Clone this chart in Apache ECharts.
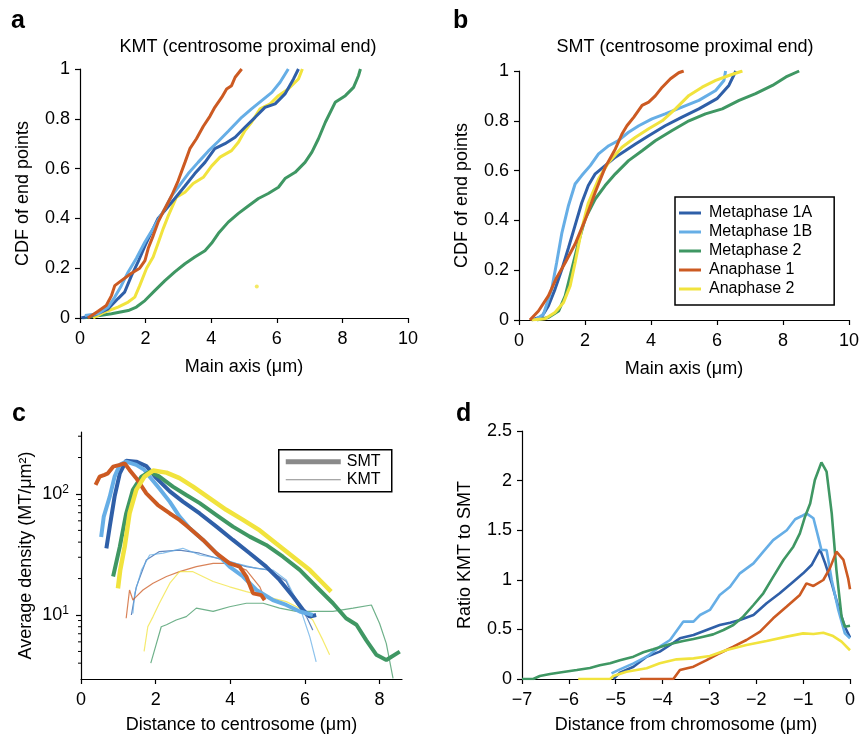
<!DOCTYPE html>
<html>
<head>
<meta charset="utf-8">
<title>KMT / SMT end points</title>
<script src="https://cdn.jsdelivr.net/npm/echarts@6/dist/echarts.min.js"></script>
<style>
html, body { margin: 0; padding: 0; background: #fff; }
#chart { width: 859px; height: 735px; }
</style>
</head>
<body>
<div id="chart"></div>
<script>
const stages = ['Metaphase 1A', 'Metaphase 1B', 'Metaphase 2', 'Anaphase 1', 'Anaphase 2']
const colors = ['#2F5FA8', '#66AEE6', '#3F9763', '#CC5A22', '#F1E33D']

// a: KMT, CDF of centrosome proximal end
const kmtCdf1A = [[0.04,0],[0.45,0.013],[0.86,0.037],[1.16,0.078],[1.36,0.104],[1.57,0.17],[1.77,0.225],[1.98,0.29],[2.18,0.345],[2.38,0.4],[2.64,0.44],[2.89,0.48],[3.2,0.53],[3.5,0.58],[3.81,0.625],[4.11,0.68],[4.42,0.7],[4.73,0.726],[5.03,0.766],[5.34,0.806],[5.64,0.846],[5.95,0.86],[6.25,0.9],[6.51,0.96],[6.66,1]]
const kmtCdf1B = [[0.15,0.01],[0.55,0.017],[0.86,0.044],[1.06,0.084],[1.26,0.13],[1.47,0.185],[1.72,0.24],[1.98,0.305],[2.28,0.37],[2.59,0.44],[2.79,0.49],[2.99,0.525],[3.3,0.58],[3.6,0.625],[3.91,0.67],[4.22,0.71],[4.52,0.75],[4.93,0.806],[5.23,0.84],[5.54,0.873],[5.85,0.906],[6.1,0.947],[6.35,1]]
const kmtCdf2 = [[0.09,0],[0.96,0.017],[1.47,0.03],[1.72,0.044],[1.98,0.07],[2.28,0.11],[2.59,0.15],[2.89,0.185],[3.2,0.218],[3.5,0.245],[3.81,0.27],[4.01,0.3],[4.22,0.34],[4.52,0.385],[4.83,0.42],[5.13,0.45],[5.44,0.48],[5.74,0.5],[6.05,0.525],[6.25,0.56],[6.56,0.585],[6.86,0.625],[7.07,0.666],[7.27,0.72],[7.48,0.786],[7.78,0.866],[8.09,0.893],[8.34,0.926],[8.49,0.973],[8.55,1]]
const kmtCdfAna1 = [[0.24,0],[0.55,0.027],[0.8,0.05],[0.96,0.09],[1.06,0.13],[1.26,0.15],[1.57,0.18],[1.82,0.2],[1.98,0.23],[2.08,0.28],[2.23,0.33],[2.38,0.385],[2.59,0.44],[2.79,0.49],[2.99,0.55],[3.2,0.625],[3.35,0.68],[3.55,0.72],[3.76,0.77],[3.96,0.81],[4.11,0.846],[4.32,0.886],[4.47,0.92],[4.62,0.933],[4.73,0.967],[4.93,1]]
const kmtCdfAna2 = [[0.4,0],[0.75,0.024],[1.16,0.044],[1.47,0.064],[1.67,0.084],[1.82,0.13],[2.03,0.2],[2.23,0.245],[2.38,0.3],[2.54,0.36],[2.69,0.41],[2.94,0.485],[3.2,0.505],[3.45,0.54],[3.76,0.565],[4.01,0.61],[4.27,0.646],[4.62,0.672],[4.83,0.706],[5.03,0.753],[5.23,0.786],[5.49,0.84],[5.8,0.86],[6.05,0.893],[6.35,0.92],[6.66,0.96],[6.78,1]]
const kmtCdfAna2Stray = [[5.39,0.127]]

// b: SMT, CDF of centrosome proximal end
const smtCdf1A = [[0.38,0],[0.69,0.013],[0.89,0.056],[1.09,0.123],[1.3,0.204],[1.5,0.29],[1.7,0.38],[1.9,0.47],[2.1,0.54],[2.31,0.587],[2.61,0.62],[2.92,0.654],[3.22,0.68],[3.53,0.707],[3.93,0.74],[4.43,0.78],[4.94,0.815],[5.45,0.848],[6.0,0.889],[6.36,0.942],[6.57,1]]
const smtCdf1B = [[0.49,0],[0.74,0.023],[0.99,0.123],[1.14,0.23],[1.3,0.35],[1.5,0.46],[1.7,0.546],[1.9,0.58],[2.16,0.62],[2.41,0.667],[2.72,0.7],[3.0,0.72],[3.32,0.754],[3.63,0.78],[4.03,0.808],[4.43,0.828],[4.94,0.855],[5.45,0.882],[5.96,0.922],[6.21,0.962],[6.26,1]]
const smtCdf2 = [[0.54,0],[0.89,0.01],[1.2,0.036],[1.4,0.097],[1.6,0.204],[1.8,0.31],[2.0,0.405],[2.31,0.486],[2.61,0.54],[2.92,0.587],[3.32,0.64],[3.73,0.68],[4.13,0.72],[4.64,0.761],[5.15,0.8],[5.65,0.828],[6.16,0.848],[6.67,0.882],[7.17,0.909],[7.68,0.942],[8.09,0.976],[8.49,1]]
const smtCdfAna1 = [[0.33,0],[0.59,0.036],[0.89,0.097],[1.14,0.17],[1.4,0.23],[1.7,0.305],[2.0,0.4],[2.31,0.513],[2.61,0.613],[2.92,0.687],[3.12,0.747],[3.27,0.78],[3.48,0.815],[3.73,0.862],[3.93,0.875],[4.13,0.9],[4.34,0.935],[4.59,0.969],[4.84,0.993],[4.99,1]]
const smtCdfAna2 = [[0.38,0],[0.79,0.005],[1.09,0.03],[1.35,0.07],[1.55,0.137],[1.7,0.23],[1.9,0.365],[2.1,0.47],[2.41,0.566],[2.72,0.634],[3.12,0.694],[3.53,0.734],[3.93,0.768],[4.34,0.8],[4.74,0.848],[5.15,0.902],[5.55,0.935],[5.96,0.962],[6.36,0.982],[6.77,1]]

// c: average density (MT/um^2) vs distance to centrosome
const smtDens1A = [[0.68,35.5],[0.77,53.7],[0.9,95],[1.04,148],[1.21,188],[1.48,185],[1.75,170],[2.02,135],[2.38,105],[2.73,86.5],[3.18,69],[3.63,53.7],[4.07,41.7],[4.52,32.4],[4.96,25.1],[5.32,19.5],[5.68,14.2],[5.95,11],[6.13,9.7],[6.3,10]]
const smtDens1B = [[0.54,44],[0.61,65],[0.77,95],[0.9,139],[1.04,174],[1.21,185],[1.48,174],[1.7,158],[1.84,139],[2.1,111],[2.38,86],[2.64,65],[2.91,52],[3.27,41.7],[3.63,32.3],[3.98,25.1],[4.34,20.8],[4.7,16.1],[5.14,13.3],[5.5,12.1],[5.86,10.7],[6.21,10]]
const smtDens2 = [[0.86,20.8],[1.04,36.7],[1.21,69],[1.39,108],[1.62,139],[1.84,153],[2.1,139],[2.46,115],[2.82,98],[3.18,84],[3.63,67],[4.07,53.7],[4.52,44.4],[4.96,37.9],[5.41,30.3],[5.86,23.6],[6.3,17.2],[6.75,12.5],[7.1,9.4],[7.38,8.3],[7.64,6.2],[7.91,4.7],[8.18,4.25],[8.54,4.98]]
const smtDensAna1 = [[0.39,119],[0.5,139],[0.63,144],[0.72,148],[0.86,168],[1.04,174],[1.17,179],[1.3,158],[1.48,135],[1.75,101],[2.06,81],[2.38,69],[2.64,61],[2.91,52],[3.27,41.7],[3.63,32.3],[3.98,26.7],[4.25,25.1],[4.43,20.8],[4.61,15.1],[4.83,14.6],[4.92,13.3]]
const smtDensAna2 = [[0.99,16.6],[1.05,23.5],[1.17,36.7],[1.3,69],[1.48,108],[1.7,139],[1.93,156],[2.29,150],[2.64,135],[3.0,115],[3.45,92],[3.89,74],[4.34,61],[4.79,50],[5.23,39],[5.68,30.3],[6.13,23.5],[6.48,18.3],[6.7,15.6]]
const kmtDens1A = [[1.35,10],[1.48,17],[1.75,28.5],[2.1,33.4],[2.64,34.4],[3.18,32.4],[3.8,28.5],[4.43,25.1],[5.05,23.5],[5.5,18.9],[5.77,12.5],[6.04,9.7],[6.21,7.5]]
const kmtDens1B = [[1.39,10.3],[1.44,15.1],[1.62,23.5],[1.84,31.3],[2.2,32.4],[2.73,35.6],[3.18,31.3],[3.71,29.4],[4.16,26.7],[4.7,24.3],[5.14,23.5],[5.5,19.5],[5.86,11.7],[6.13,6.6],[6.3,4.1]]
const kmtDens2 = [[1.87,4],[2.02,5.8],[2.15,8],[2.29,8.3],[2.55,9.1],[2.82,9.7],[3.09,11.4],[3.54,10.7],[3.98,11.7],[4.43,12.5],[4.88,12.5],[5.32,11.4],[5.77,10.7],[6.21,10.7],[6.75,10.7],[7.29,11.4],[7.78,12.1],[8.0,8.5],[8.18,5.8],[8.36,3.0]]
const kmtDensAna1 = [[1.21,9.4],[1.3,16.1],[1.39,13.3],[1.48,14.2],[1.66,16.1],[1.93,18.3],[2.29,20.8],[2.64,22.8],[3.09,25.1],[3.54,26.7],[3.98,26.7],[4.43,23.5],[4.79,17.1],[4.92,13.7]]
const kmtDensAna2 = [[1.69,5],[1.79,8],[1.93,9.7],[2.1,12.5],[2.38,18.3],[2.64,22.8],[3.0,22.8],[3.54,18.9],[3.98,17.1],[4.43,15.6],[4.96,14.2],[5.5,12.9],[5.95,11],[6.21,9.1],[6.48,6.2],[6.66,4.7]]
const densMinorTicks = [4, 5, 6, 7, 8, 9, 20, 30, 40, 50, 60, 70, 80, 90, 200, 300]

// d: ratio KMT to SMT vs distance from chromosome
const ratio1A = [[-5.05,0],[-4.91,0.064],[-4.62,0.124],[-4.34,0.225],[-4.06,0.276],[-3.84,0.343],[-3.63,0.41],[-3.34,0.443],[-3.06,0.494],[-2.78,0.544],[-2.56,0.568],[-2.35,0.595],[-2.06,0.645],[-1.78,0.763],[-1.5,0.864],[-1.21,0.981],[-1.0,1.065],[-0.82,1.149],[-0.64,1.307],[-0.53,1.166],[-0.39,0.964],[-0.25,0.729],[-0.11,0.527],[0,0.42]]
const ratio1B = [[-5.09,0.057],[-4.91,0.097],[-4.62,0.158],[-4.34,0.225],[-4.06,0.326],[-3.84,0.393],[-3.56,0.578],[-3.34,0.578],[-3.2,0.645],[-2.99,0.696],[-2.78,0.847],[-2.56,0.93],[-2.35,1.065],[-2.06,1.166],[-1.85,1.284],[-1.64,1.4],[-1.35,1.5],[-1.17,1.61],[-1.03,1.643],[-0.93,1.67],[-0.78,1.62],[-0.68,1.435],[-0.61,1.3],[-0.5,1.3],[-0.39,0.998],[-0.25,0.696],[-0.11,0.46],[0,0.41]]
const ratio2 = [[-7,0],[-6.76,0],[-6.62,0.03],[-6.4,0.05],[-6.12,0.07],[-5.83,0.09],[-5.55,0.11],[-5.34,0.138],[-5.12,0.158],[-4.91,0.19],[-4.62,0.225],[-4.41,0.27],[-4.2,0.3],[-3.98,0.333],[-3.77,0.36],[-3.56,0.383],[-3.34,0.403],[-3.13,0.427],[-2.92,0.45],[-2.7,0.494],[-2.49,0.544],[-2.28,0.628],[-2.06,0.746],[-1.85,0.864],[-1.64,1.03],[-1.42,1.2],[-1.21,1.334],[-1.07,1.468],[-0.96,1.636],[-0.85,1.77],[-0.75,2.006],[-0.61,2.184],[-0.5,2.09],[-0.39,1.67],[-0.29,1.1],[-0.18,0.628],[-0.11,0.527],[0,0.537]]
const ratioAna1 = [[-4.48,0],[-3.77,0],[-3.63,0.09],[-3.34,0.124],[-3.06,0.19],[-2.78,0.26],[-2.49,0.326],[-2.21,0.393],[-1.92,0.477],[-1.64,0.612],[-1.35,0.73],[-1.07,0.847],[-0.93,0.964],[-0.78,0.938],[-0.57,0.998],[-0.43,1.115],[-0.29,1.284],[-0.14,1.2],[-0.04,1.015],[0,0.904]]
const ratioAna2 = [[-5.8,0],[-5.12,0],[-5.05,0.03],[-4.77,0.074],[-4.34,0.108],[-4.06,0.158],[-3.7,0.198],[-3.34,0.208],[-2.99,0.232],[-2.63,0.292],[-2.21,0.343],[-1.78,0.383],[-1.35,0.427],[-1.0,0.46],[-0.78,0.453],[-0.57,0.467],[-0.36,0.433],[-0.18,0.376],[0,0.29]]

const FONT = '"Liberation Sans", Arial, sans-serif'
const chart = echarts.init(document.getElementById('chart'))

const axisBase = {
  axisLine: { show: true, onZero: false, lineStyle: { color: '#000', width: 1.2 } },
  axisTick: { show: true, length: 5, lineStyle: { color: '#000', width: 1.2 } },
  splitLine: { show: false },
  nameLocation: 'middle',
  nameTextStyle: { color: '#000', fontSize: 18, fontFamily: FONT },
}
const labelX = { color: '#000', fontSize: 18, fontFamily: FONT, margin: 12 }
const labelY = { color: '#000', fontSize: 18, fontFamily: FONT, margin: 10 }
function xAx(gridIndex, extra) {
  return Object.assign({ type: 'value', gridIndex, nameGap: 40, axisLabel: labelX }, axisBase, extra)
}
function yAx(gridIndex, extra) {
  return Object.assign({ type: 'value', gridIndex, nameGap: 46, axisLabel: labelY }, axisBase, extra)
}
const minus = v => (v < 0 ? '\u2212' + (-v) : String(v))

function line(idx, data, gi, width, opacity, z) {
  return {
    type: 'line',
    name: stages[idx],
    xAxisIndex: gi,
    yAxisIndex: gi,
    data,
    symbol: 'none',
    smooth: false,
    z: z || 2,
    lineStyle: { color: colors[idx], width, opacity: opacity || 1 },
    itemStyle: { color: colors[idx] },
    emphasis: { disabled: true },
  }
}

const panelA = [kmtCdf2, kmtCdfAna2, kmtCdf1A, kmtCdf1B, kmtCdfAna1]
const panelB = [smtCdf2, smtCdf1A, smtCdf1B, smtCdfAna2, smtCdfAna1]
const idxA = [2, 4, 0, 1, 3]
const idxB = [2, 0, 1, 4, 3]
const smtDens = [smtDens1A, smtDens1B, smtDens2, smtDensAna1, smtDensAna2]
const kmtDens = [kmtDens1A, kmtDens1B, kmtDens2, kmtDensAna1, kmtDensAna2]
const ratios = [ratio1A, ratio1B, ratio2, ratioAna1, ratioAna2]

const series = []
panelA.forEach((d, i) => series.push(line(idxA[i], d, 0, 3)))
series.push({
  type: 'scatter', xAxisIndex: 0, yAxisIndex: 0, data: kmtCdfAna2Stray,
  symbolSize: 4, itemStyle: { color: colors[4] }, silent: true,
})
panelB.forEach((d, i) => series.push(line(idxB[i], d, 1, 3)))
kmtDens.forEach((d, i) => series.push(line(i, d, 2, 1.2, 0.75, 1)))
smtDens.forEach((d, i) => series.push(line(i, d, 2, i === 4 ? 4.5 : 4, 1, 3)))
series.push({
  type: 'custom',
  xAxisIndex: 2,
  yAxisIndex: 2,
  data: densMinorTicks.map(v => [0, v]),
  silent: true,
  clip: false,
  renderItem(params, api) {
    const p = api.coord([0, api.value(1)])
    return {
      type: 'line',
      shape: { x1: p[0] - 3, y1: p[1], x2: p[0], y2: p[1] },
      style: { stroke: '#000', lineWidth: 1 },
    }
  },
})
ratios.forEach((d, i) => series.push(line(i, d, 3, 2.6)))

const option = {
  animation: false,
  backgroundColor: '#fff',
  textStyle: { fontFamily: FONT },
  title: [
    { text: 'KMT (centrosome proximal end)', left: 243, top: 33, textAlign: 'center',
      textStyle: { fontSize: 18, fontWeight: 'normal', color: '#000', fontFamily: FONT } },
    { text: 'SMT (centrosome proximal end)', left: 680, top: 33, textAlign: 'center',
      textStyle: { fontSize: 18, fontWeight: 'normal', color: '#000', fontFamily: FONT } },
  ],
  grid: [
    { left: 80, top: 69, width: 328, height: 249, outerBoundsMode: 'none' },
    { left: 519, top: 71, width: 330, height: 249, outerBoundsMode: 'none' },
    { left: 81, top: 432, width: 321, height: 247, outerBoundsMode: 'none' },
    { left: 522, top: 431, width: 328, height: 248, outerBoundsMode: 'none' },
  ],
  xAxis: [
    xAx(0, { min: 0, max: 10, interval: 2, name: 'Main axis (\u03bcm)' }),
    xAx(1, { min: 0, max: 10, interval: 2, name: 'Main axis (\u03bcm)' }),
    xAx(2, { min: 0, max: 8.6, interval: 2, name: 'Distance to centrosome (\u03bcm)', nameGap: 37,
      axisLabel: Object.assign({}, labelX, { showMaxLabel: false }) }),
    xAx(3, { min: -7, max: 0, interval: 1, name: 'Distance from chromosome (\u03bcm)', nameGap: 37,
      axisLabel: Object.assign({}, labelX, { formatter: minus }) }),
  ],
  yAxis: [
    yAx(0, { min: 0, max: 1, interval: 0.2, name: 'CDF of end points', nameGap: 48 }),
    yAx(1, { min: 0, max: 1, interval: 0.2, name: 'CDF of end points', nameGap: 48 }),
    yAx(2, {
      type: 'log', logBase: 10, min: 2.96, max: 325, name: 'Average density (MT/\u03bcm\u00b2)', nameGap: 46,
      axisLabel: Object.assign({}, labelY, {
        margin: 12,
        showMinLabel: false,
        showMaxLabel: false,
        formatter(v) {
          const e = Math.round(Math.log10(v))
          if (Math.abs(Math.log10(v) - e) > 1e-6) return ''
          return '{b|10}{s|' + e + '}'
        },
        rich: {
          b: { fontSize: 18, fontFamily: FONT, color: '#000' },
          s: { fontSize: 12, fontFamily: FONT, color: '#000', verticalAlign: 'bottom', padding: [0, 0, 8, 0] },
        },
      }),
    }),
    yAx(3, { min: 0, max: 2.5, interval: 0.5, name: 'Ratio KMT to SMT', nameGap: 48 }),
  ],
  legend: {
    data: stages,
    orient: 'vertical',
    left: 675,
    top: 197,
    itemWidth: 22,
    itemHeight: 3,
    itemGap: 3,
    icon: 'rect',
    padding: [8, 22, 8, 4],
    borderColor: '#000',
    borderWidth: 1.5,
    selectedMode: false,
    textStyle: { fontSize: 16, fontFamily: FONT, color: '#000', lineHeight: 16, padding: [0, 0, 0, 3] },
  },
  graphic: [
    { type: 'text', left: 11, top: 9, style: { text: 'a', font: 'bold 25px ' + FONT, fill: '#000' } },
    { type: 'text', left: 453, top: 9, style: { text: 'b', font: 'bold 25px ' + FONT, fill: '#000' } },
    { type: 'text', left: 12, top: 402, style: { text: 'c', font: 'bold 25px ' + FONT, fill: '#000' } },
    { type: 'text', left: 456, top: 402, style: { text: 'd', font: 'bold 25px ' + FONT, fill: '#000' } },
    {
      type: 'group', left: 278, top: 449,
      children: [
        { type: 'rect', shape: { x: 0, y: 0, width: 113, height: 42 }, style: { fill: '#fff', stroke: '#000', lineWidth: 1.5 } },
        { type: 'line', shape: { x1: 7, y1: 12, x2: 62, y2: 12 }, style: { stroke: '#8a8a8a', lineWidth: 5 } },
        { type: 'line', shape: { x1: 7, y1: 30, x2: 62, y2: 30 }, style: { stroke: '#8a8a8a', lineWidth: 1.2 } },
        { type: 'text', x: 68, y: 12, style: { text: 'SMT', font: '16px ' + FONT, fill: '#000', verticalAlign: 'middle' } },
        { type: 'text', x: 68, y: 30, style: { text: 'KMT', font: '16px ' + FONT, fill: '#000', verticalAlign: 'middle' } },
      ],
    },
  ],
  series,
}
chart.setOption(option)
</script>
</body>
</html>
